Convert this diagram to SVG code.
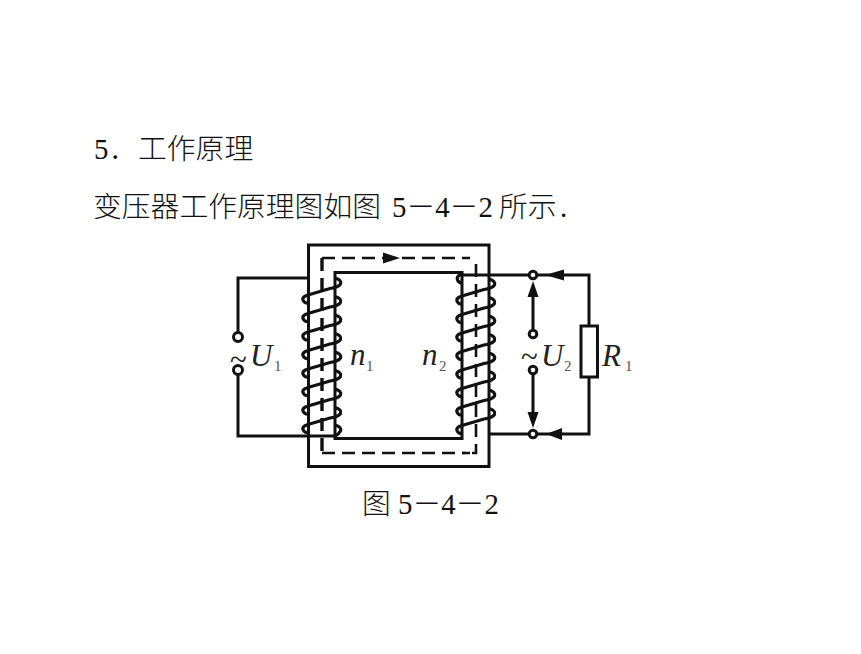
<svg xmlns="http://www.w3.org/2000/svg" width="861" height="654" viewBox="0 0 861 654">
<style>
text{fill:#111;font-family:"Liberation Serif","Noto Sans CJK SC",serif}
.h{font-size:28.8px;font-weight:300}
.v{font-size:31px;font-style:italic;fill:#222}
.s{font-size:15px;fill:#555}
.w{fill:none;stroke:#111;stroke-width:3}
.k{fill:none;stroke:#111;stroke-width:3}
.d{fill:none;stroke:#111;stroke-width:2.6;stroke-dasharray:13 7}
.t{fill:#fff;stroke:#111;stroke-width:3}
.a{fill:#111}
.c{fill:none;stroke:#111;stroke-width:3.2}
</style>
<defs>
<path id="turn" d="M335 278Q342 280 340.500 284Q339 287 330 288.500L308 295Q301 297 303.500 301Q305 303.500 309 303"/>
</defs>
<rect width="861" height="654" fill="#fff"/>
<g id="heading">
<text class="h" x="94" y="159">5</text><text class="h" x="109" y="159">．</text><text class="h" x="138" y="159">工作原理</text>
</g>
<g id="sentence">
<text class="h" x="93" y="217">变压器工作原理图如图</text><text class="h" x="392" y="217">5－4－2</text><text class="h" x="499" y="217">所示</text><text class="h" x="560" y="217">.</text>
</g>
<g id="core">
<rect class="k" x="308.500" y="245" width="180.500" height="221.500"/>
<rect class="k" x="335" y="272.500" width="127" height="166"/>
</g>
<g id="connectors">
<path class="d" d="M322 258H470"/>
<path class="d" d="M322 453H470"/>
<path class="d" style="stroke-width:3.400" d="M322 258V453"/>
<path class="d" d="M476 264V453H462"/>
<path class="w" d="M308 278H238V332"/>
<path class="w" d="M238 375V436H336"/>
<path class="w" d="M462 275H528M538 275H589V326M589 377V434H538M528 434H489"/>
<path class="w" d="M533 295V329M533 375V413"/>
<path class="a" d="M400 258L383 252.500V263.500Z"/>
<path class="a" d="M545 275L564 269.500V280.500Z"/>
<path class="a" d="M546 434L562 428V440Z"/>
<path class="a" d="M533 281L527.500 297H538.500Z"/>
<path class="a" d="M533 428L527.500 412H538.500Z"/>
</g>
<g id="primary-coil" class="c">
<use href="#turn"/>
<use href="#turn" y="18.500"/>
<use href="#turn" y="37"/>
<use href="#turn" y="55.500"/>
<use href="#turn" y="74"/>
<use href="#turn" y="92.500"/>
<use href="#turn" y="111"/>
<use href="#turn" y="129.500"/>
<path d="M335 425Q342 427 340.500 431Q339 434 335 436"/>
</g>
<g id="secondary-coil" class="c">
<use href="#turn" x="154" y="1"/>
<use href="#turn" x="154" y="19.500"/>
<use href="#turn" x="154" y="38"/>
<use href="#turn" x="154" y="56.500"/>
<use href="#turn" x="154" y="75"/>
<use href="#turn" x="154" y="93.500"/>
<use href="#turn" x="154" y="112"/>
<use href="#turn" x="154" y="130.500"/>
<path d="M462 274Q456 276 457.500 280Q459 283 462 283"/>
</g>
<g id="terminal-u1-top"><circle class="t" cx="238" cy="337" r="4.500"/></g>
<g id="terminal-u1-bottom"><circle class="t" cx="238" cy="370" r="4.500"/></g>
<g id="terminal-u2-a"><circle class="t" cx="533" cy="275" r="3.800"/></g>
<g id="terminal-u2-b"><circle class="t" cx="533" cy="334" r="3.800"/></g>
<g id="terminal-u2-c"><circle class="t" cx="533" cy="370" r="3.800"/></g>
<g id="terminal-u2-d"><circle class="t" cx="533" cy="434" r="3.800"/></g>
<g id="resistor"><rect class="t" x="581" y="326" width="16.500" height="51"/></g>
<g id="label-u1">
<text class="v" x="230" y="370" style="font-style:normal">~</text>
<text class="v" x="250" y="366">U</text><text class="s" x="274" y="371">1</text>
</g>
<g id="label-n1"><text class="v" x="350" y="365">n</text><text class="s" x="366" y="371">1</text></g>
<g id="label-n2"><text class="v" x="422" y="365">n</text><text class="s" x="439" y="371">2</text></g>
<g id="label-u2">
<text class="v" x="521" y="367" style="font-style:normal">~</text>
<text class="v" x="541" y="366">U</text><text class="s" x="564" y="371">2</text>
</g>
<g id="label-r1"><text class="v" x="602" y="366">R</text><text class="s" x="625" y="371">1</text></g>
<g id="caption">
<text class="h" x="362" y="514">图</text><text class="h" x="398" y="514">5－4－2</text>
</g>
</svg>
